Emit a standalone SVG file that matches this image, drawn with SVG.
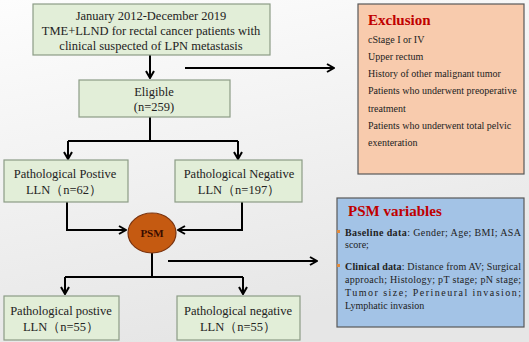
<svg xmlns="http://www.w3.org/2000/svg" width="529" height="342" viewBox="0 0 529 342">
<defs>
<linearGradient id="bg" x1="0" y1="0" x2="0.3" y2="1">
<stop offset="0" stop-color="#fdfdfd"/>
<stop offset="1" stop-color="#e6e6e6"/>
</linearGradient>
<marker id="ar" viewBox="0 0 10 10" refX="9" refY="5" markerWidth="10" markerHeight="10" markerUnits="userSpaceOnUse" orient="auto">
<polyline points="2,1 9,5 2,9" fill="none" stroke="#000" stroke-width="2"/>
</marker>
<style>
.box{fill:#e2eed8;stroke:#8c9c86;stroke-width:1.2}
text{font-family:'Liberation Serif','DejaVu Serif',serif}
.t{font-size:12.5px;fill:#222;text-anchor:middle}
.s{font-size:10px;fill:#222}
.h{font-size:15px;font-weight:bold;fill:#c00000}
.c{fill:none;stroke:#000;stroke-width:2}
.b{font-weight:bold}
</style>
</defs>
<rect width="529" height="342" fill="url(#bg)"/>

<g id="connectors">
<path class="c" d="M150 55 V78" marker-end="url(#ar)"/>
<path class="c" d="M185 68 H334" marker-end="url(#ar)"/>
<path class="c" d="M150 117 V141"/>
<path class="c" d="M68 141 H238"/>
<path class="c" d="M68 141 V159" marker-end="url(#ar)"/>
<path class="c" d="M238 141 V159" marker-end="url(#ar)"/>
<path class="c" d="M67 202 V230 H126" marker-end="url(#ar)"/>
<path class="c" d="M242 202 V230 H178" marker-end="url(#ar)"/>
<path class="c" d="M152 253 V277"/>
<path class="c" d="M65 277 H243"/>
<path class="c" d="M65 277 V294" marker-end="url(#ar)"/>
<path class="c" d="M243 277 V294" marker-end="url(#ar)"/>
<path class="c" d="M168 261 H317" marker-end="url(#ar)"/>
</g>

<g id="n-start">
<rect class="box" x="33" y="4" width="237" height="51"/>
<text class="t" x="151" y="20">January 2012-December 2019</text>
<text class="t" x="151" y="35">TME+LLND for rectal cancer patients with</text>
<text class="t" x="151" y="50">clinical suspected of LPN metastasis</text>
</g>

<g id="n-eligible">
<rect class="box" x="79" y="80" width="151" height="37"/>
<text class="t" x="154" y="96">Eligible</text>
<text class="t" x="154" y="111">(n=259)</text>
</g>

<g id="n-pos">
<rect class="box" x="4" y="160" width="124" height="42"/>
<text class="t" x="65" y="178">Pathological Postive</text>
<text class="t" x="64" y="194">LLN（n=62）</text>
</g>

<g id="n-neg">
<rect class="box" x="175" y="160" width="127" height="42"/>
<text class="t" x="239" y="178">Pathological Negative</text>
<text class="t" x="239" y="194">LLN（n=197）</text>
</g>

<g id="n-psm">
<ellipse cx="152" cy="233" rx="24" ry="20" fill="#c55a11" stroke="#7a3410" stroke-width="1.2"/>
<text x="152" y="237" text-anchor="middle" font-size="11px" font-weight="bold" fill="#3a0c00">PSM</text>
</g>

<g id="n-pos2">
<rect class="box" x="4" y="296" width="115" height="44"/>
<text class="t" x="61" y="315">Pathological postive</text>
<text class="t" x="61" y="331">LLN（n=55）</text>
</g>

<g id="n-neg2">
<rect class="box" x="177" y="296" width="123" height="44"/>
<text class="t" x="238" y="315">Pathological negative</text>
<text class="t" x="238" y="331">LLN（n=55）</text>
</g>

<g id="n-exclusion">
<rect x="358" y="4" width="166" height="170" fill="#f8cbad" stroke="#595959" stroke-width="1.2"/>
<text class="h" x="368" y="25">Exclusion</text>
<text class="s" x="368" y="43">cStage I or IV</text>
<text class="s" x="368" y="60">Upper rectum</text>
<text class="s" x="368" y="77">History of other malignant tumor</text>
<text class="s" x="368" y="94">Patients who underwent preoperative</text>
<text class="s" x="368" y="112">treatment</text>
<text class="s" x="368" y="129">Patients who underwent total pelvic</text>
<text class="s" x="368" y="146">exenteration</text>
</g>

<g id="n-variables">
<rect x="337" y="198" width="187" height="129" fill="#a3c3e6" stroke="#595959" stroke-width="1.2"/>
<text class="h" x="348" y="216">PSM variables</text>
<rect x="337" y="230" width="3" height="3" fill="#e08a3c"/>
<rect x="337" y="264" width="3" height="3" fill="#e08a3c"/>
<text class="s" x="345" y="236" textLength="176" lengthAdjust="spacing"><tspan class="b">Baseline data</tspan>: Gender; Age; BMI; ASA</text>
<text class="s" x="345" y="248">score;</text>
<text class="s" x="345" y="270" textLength="176" lengthAdjust="spacing"><tspan class="b">Clinical data</tspan>: Distance from AV;  Surgical</text>
<text class="s" x="345" y="283" textLength="176" lengthAdjust="spacing">approach; Histology; pT stage; pN stage;</text>
<text class="s" x="345" y="296" textLength="176" lengthAdjust="spacing">Tumor size; Perineural invasion;</text>
<text class="s" x="345" y="309">Lymphatic invasion</text>
</g>
</svg>
